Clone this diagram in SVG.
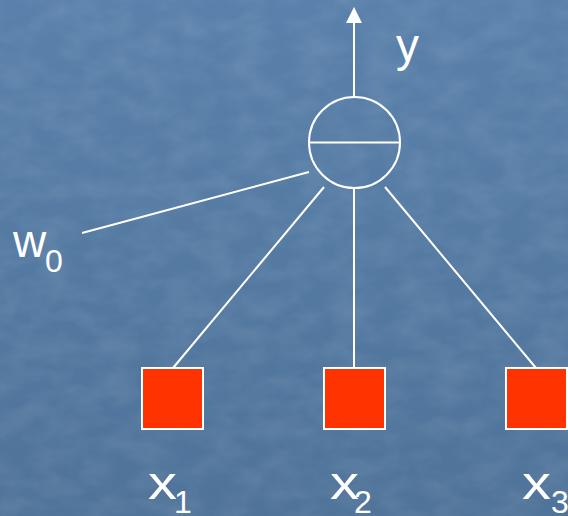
<svg xmlns="http://www.w3.org/2000/svg" width="568" height="516" viewBox="0 0 568 516">
<style>
.ln{stroke:#ffffff;stroke-width:2;fill:none}
.sq{fill:#ff3300;stroke:#ffffff;stroke-width:2}
.t{font-family:"Liberation Sans",Arial,sans-serif;fill:#ffffff;font-size:46px}
.s{font-family:"Liberation Sans",Arial,sans-serif;fill:#ffffff;font-size:32px}
</style>
<defs>
<linearGradient id="bg" x1="0" y1="0" x2="0" y2="1">
<stop offset="0" stop-color="#5a81ab"/>
<stop offset="1" stop-color="#4f7399"/>
</linearGradient>
<filter id="tex" x="0" y="0" width="100%" height="100%">
<feTurbulence type="fractalNoise" baseFrequency="0.03 0.05" numOctaves="3" seed="4"/>
<feColorMatrix type="matrix" values="0 0 0 0 1  0 0 0 0 1  0 0 0 0 1  0 0 0 0.25 -0.08"/>
</filter>
<marker id="ah" viewBox="0 0 16 16" refX="8" refY="8" markerWidth="16" markerHeight="16" markerUnits="userSpaceOnUse" orient="auto">
<path d="M0,0 L16,8 L0,16 Z" fill="#ffffff"/>
</marker>
</defs>
<rect x="0" y="0" width="568" height="516" fill="url(#bg)"/>
<rect x="0" y="0" width="568" height="516" filter="url(#tex)" opacity="0.6"/>
<g id="connectors">
<line class="ln" x1="354" y1="97" x2="354" y2="15" marker-end="url(#ah)"/>
<line class="ln" x1="309" y1="172" x2="82" y2="233"/>
<line class="ln" x1="324" y1="187" x2="173" y2="368"/>
<line class="ln" x1="354" y1="188" x2="354" y2="368"/>
<line class="ln" x1="385" y1="187" x2="536" y2="368"/>
</g>
<g id="neuron">
<circle class="ln" cx="354.5" cy="142.5" r="45.5"/>
<line class="ln" x1="309" y1="142.5" x2="400" y2="142.5"/>
</g>
<g id="output-y">
<text class="t" x="396" y="61">y</text>
</g>
<g id="bias-w0">
<text class="t" x="13" y="257">w</text>
<text class="s" x="45" y="272">0</text>
</g>
<g id="input-x1">
<rect class="sq" x="142" y="368" width="61" height="61"/>
<text class="t" x="148" y="499" textLength="29" lengthAdjust="spacingAndGlyphs">x</text>
<text class="s" x="174" y="513">1</text>
</g>
<g id="input-x2">
<rect class="sq" x="324" y="368" width="61" height="61"/>
<text class="t" x="330" y="499" textLength="29" lengthAdjust="spacingAndGlyphs">x</text>
<text class="s" x="354" y="513">2</text>
</g>
<g id="input-x3">
<rect class="sq" x="506" y="368" width="61" height="61"/>
<text class="t" x="522" y="499" textLength="29" lengthAdjust="spacingAndGlyphs">x</text>
<text class="s" x="551" y="513">3</text>
</g>
</svg>
